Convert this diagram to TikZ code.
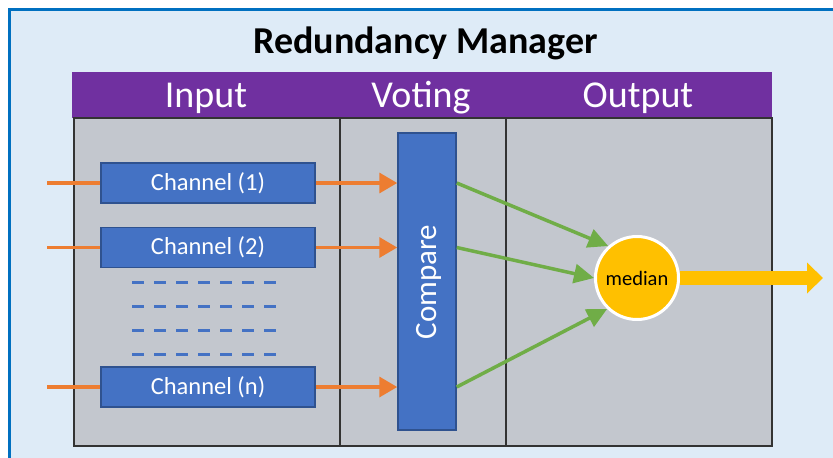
\documentclass[tikz,border=0pt]{standalone}
\usepackage{fontspec}
\setmainfont{Carlito}
\usetikzlibrary{arrows.meta}
\definecolor{bgblue}{HTML}{DEEBF7}
\definecolor{frameblue}{HTML}{0070C0}
\definecolor{hdrpurple}{HTML}{7030A0}
\definecolor{panelgray}{HTML}{C3C7CE}
\definecolor{chblue}{HTML}{4472C4}
\definecolor{chborder}{HTML}{2F528F}
\definecolor{arrorange}{HTML}{ED7D31}
\definecolor{arrgreen}{HTML}{70AD47}
\definecolor{medyellow}{HTML}{FFC000}
\tikzset{
  panel/.style={draw=black!80, line width=1.2pt, fill=panelgray, minimum height=328pt, inner sep=0pt},
  hdrtext/.style={text=white, anchor=base, inner sep=0pt, font=\fontsize{38}{44}\selectfont},
  chbox/.style={draw=chborder, line width=1.5pt, fill=chblue, minimum width=214pt, minimum height=40pt, inner sep=0pt, text=white, font=\fontsize{24.5}{28}\selectfont},
  orangearrow/.style={draw=arrorange, line width=3.5pt, -{Triangle[length=18pt,width=20pt]}},
  orangeline/.style={draw=arrorange, line width=3.5pt},
  greenarrow/.style={draw=arrgreen, line width=3.5pt, -{Triangle[length=20pt,width=19pt]}},
  dashrow/.style={draw=chblue, line width=3pt, dash pattern=on 12pt off 10pt},
}
\begin{document}
\begin{tikzpicture}[x=1pt,y=-1pt]
\useasboundingbox (0,0) rectangle (833,458);
\clip (0,0) rectangle (833,458);
\fill[white] (0,0) rectangle (833,458);
\draw[line width=3pt, draw=frameblue, fill=bgblue] (9,9) rectangle (860,480);
\node[anchor=base, inner sep=0pt, font=\fontsize{38}{44}\bfseries\selectfont] (title) at (425.5,53) {Redundancy Manager};
% header
\node[fill=hdrpurple, minimum width=700pt, minimum height=46pt, inner sep=0pt] (hdr) at (422,95) {};
\node[hdrtext] (hin) at (206,107) {Input};
\node[hdrtext] (hvote) at (421,107) {Voting};
\node[hdrtext] (hout) at (638,107) {Output};
% panels
\node[panel, minimum width=266pt] (pin) at (207,282) {};
\node[panel, minimum width=166pt] (pvote) at (423,282) {};
\node[panel, minimum width=266pt] (pout) at (639,282) {};
% channels
\node[chbox] (ch1) at (208,183) {Channel (1)};
\node[chbox] (ch2) at (208,247.5) {Channel (2)};
\node[chbox] (chn) at (208,387) {Channel (n)};
% dashed rows
\foreach \yy in {282,306,330,354} \draw[dashrow] (132,\yy) -- (277,\yy);
% compare
\node[draw=chborder, line width=1.5pt, fill=chblue, minimum width=58pt, minimum height=297pt, inner sep=0pt] (cmp) at (427,281.5) {};
\node[rotate=90, text=white, font=\fontsize{31}{36}\selectfont] (cmptext) at (429,282) {Compare};
% median
\node[circle, draw=white, line width=3pt, fill=medyellow, minimum size=83pt, inner sep=0pt, font=\fontsize{20.5}{24}\selectfont] (med) at (637,278) {median};
% inputs
\coordinate (in1) at (47,183);
\coordinate (in2) at (47,247.5);
\coordinate (inn) at (47,387);
\draw[orangeline] (in1) -- (ch1.west);
\draw[orangeline] (in2) -- (ch2.west);
\draw[orangeline] (inn) -- (chn.west);
\draw[orangearrow] (ch1.east) -- (ch1.east -| cmp.west);
\draw[orangearrow] (ch2.east) -- (ch2.east -| cmp.west);
\draw[orangearrow] (chn.east) -- (chn.east -| cmp.west);
% green
\draw[greenarrow] (cmp.east |- ch1) -- (med.132);
\draw[greenarrow] (cmp.east |- ch2) -- (med.180);
\draw[greenarrow] (cmp.east |- chn) -- (med.226);
% output
\coordinate (outp) at (823,278);
\draw[draw=medyellow, line width=14pt, -{Triangle[length=16pt,width=30pt]}] (med.east) -- (outp);
\end{tikzpicture}
\end{document}
